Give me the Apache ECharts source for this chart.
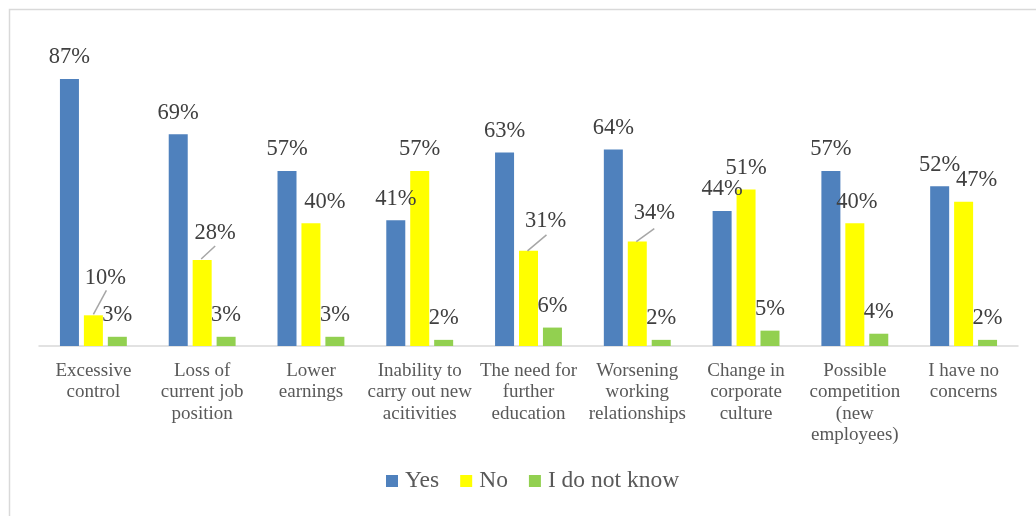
<!DOCTYPE html>
<html>
<head>
<meta charset="utf-8">
<script src="https://cdn.jsdelivr.net/npm/echarts@6/dist/echarts.min.js"></script>
<style>
html,body{margin:0;padding:0;background:#fff;}
#chart{width:1036px;height:516px;}
</style>
</head>
<body>
<div id="chart"></div>
<script>
const categories = [
  "Excessive\ncontrol",
  "Loss of\ncurrent job\nposition",
  "Lower\nearnings",
  "Inability to\ncarry out new\nacitivities",
  "The need for\nfurther\neducation",
  "Worsening\nworking\nrelationships",
  "Change in\ncorporate\nculture",
  "Possible\ncompetition\n(new\nemployees)",
  "I have no\nconcerns"
];
const seriesNames = ["Yes", "No", "I do not know"];
const yesValues = [87, 69, 57, 41, 63, 64, 44, 57, 52];
const noValues = [10, 28, 40, 57, 31, 34, 51, 40, 47];
const dontKnowValues = [3, 3, 3, 2, 6, 2, 5, 4, 2];

// styling: label displacement of the "No" labels [dx, dy]
const noLabelShift = [[12, -16], [13, -5], [14, 0], [0, 0], [17, -8], [17, -7], [0, 0], [2, 0], [13, 0]];
// styling: leader line from bar top (pixel offsets) [x1, y1, x2, y2], null = none
const noLeader = [[0, -1, 13, -25], [-1, -1, 13, -14], null, null, [-1, 0, 18, -16], [-1, 0, 17, -13], null, null, null];

const FONT = '"Liberation Serif", "Times New Roman", serif';
const labelBase = {
  show: true, position: 'top', distance: 10,
  formatter: '{c}%', fontFamily: FONT, fontSize: 22.5, color: '#404040'
};

const chart = echarts.init(document.getElementById('chart'), null, {renderer: 'canvas'});
chart.setOption({
  animation: false,
  backgroundColor: '#ffffff',
  graphic: [{
    type: 'rect', silent: true, z: -10,
    shape: {x: 9.5, y: 9.5, width: 1100, height: 600},
    style: {fill: 'none', stroke: '#d9d9d9', lineWidth: 1.5}
  }],
  grid: {left: 39, right: 18, top: 39, bottom: 170, containLabel: false},
  legend: {
    data: seriesNames,
    left: 386, top: 469, padding: 0,
    itemWidth: 12, itemHeight: 12, itemGap: 21,
    icon: 'rect',
    textStyle: {fontFamily: FONT, fontSize: 23.5, color: '#595959', padding: [0, 0, 0, 2]}
  },
  xAxis: {
    type: 'category',
    data: categories,
    axisLine: {show: true, lineStyle: {color: '#d9d9d9', width: 1.5}},
    axisTick: {show: false},
    axisLabel: {
      interval: 0, margin: 14,
      fontFamily: FONT, fontSize: 19, lineHeight: 21.5, color: '#595959'
    }
  },
  yAxis: {
    type: 'value', min: 0, max: 100, show: false,
    splitLine: {show: false}
  },
  series: [
    {
      name: seriesNames[0], type: 'bar', data: yesValues,
      barWidth: 19, barGap: '26%', barCategoryGap: '38%',
      itemStyle: {color: '#4f81bd'},
      label: labelBase
    },
    {
      name: seriesNames[1], type: 'bar', data: noValues,
      barWidth: 19, barGap: '26%',
      itemStyle: {color: '#ffff00'},
      label: labelBase,
      labelLayout: function (p) {
        const s = noLabelShift[p.dataIndex];
        return {dx: s[0], dy: s[1]};
      }
    },
    {
      name: seriesNames[2], type: 'bar', data: dontKnowValues,
      barWidth: 19, barGap: '26%',
      itemStyle: {color: '#92d050'},
      label: labelBase
    },
    {
      name: 'leader', type: 'custom', silent: true, z: 5,
      data: noValues.map((v, i) => [i, v]),
      renderItem: function (params, api) {
        const i = api.value(0);
        const l = noLeader[i];
        if (!l) return null;
        const p = api.coord([i, api.value(1)]);
        return {
          type: 'line',
          shape: {x1: p[0] + l[0], y1: p[1] + l[1], x2: p[0] + l[2], y2: p[1] + l[3]},
          style: {stroke: '#a6a6a6', lineWidth: 1.5}
        };
      }
    }
  ]
});
</script>
</body>
</html>
